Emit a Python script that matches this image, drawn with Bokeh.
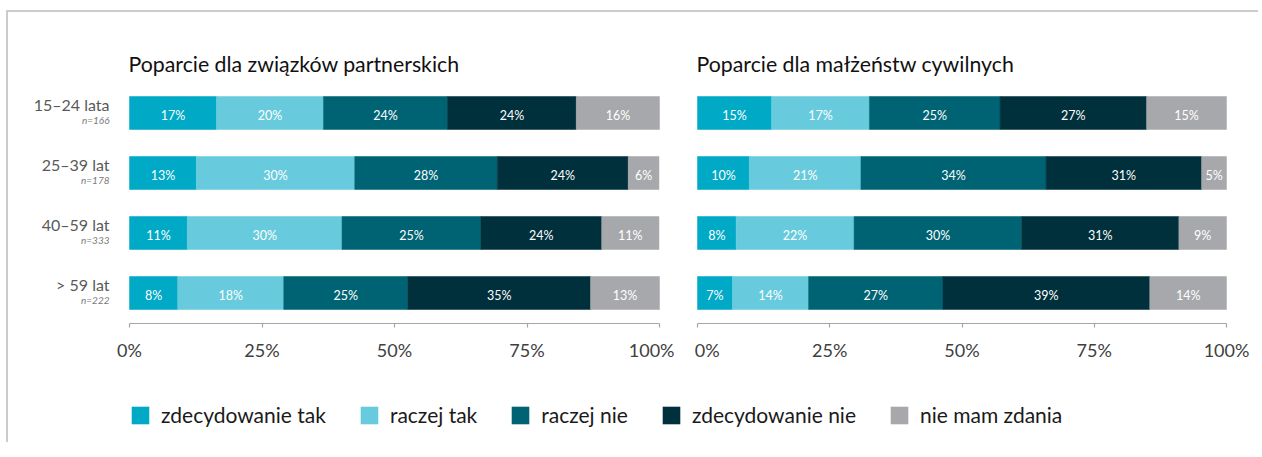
from bokeh.plotting import figure
from bokeh.models import ColumnDataSource, Range1d, FixedTicker, Legend, LegendItem
from bokeh.layouts import row, column
from bokeh.core.properties import value
from bokeh.embed import file_html
from bokeh.resources import INLINE

# ---------------- data ----------------
groups = ["15–24 lata", "25–39 lat", "40–59 lat", "> 59 lat"]
sample_sizes = ["n=166", "n=178", "n=333", "n=222"]
answers = ["zdecydowanie tak", "raczej tak", "raczej nie", "zdecydowanie nie", "nie mam zdania"]
colors = ["#00A9C5", "#67CBDD", "#006373", "#00303C", "#A7A8AB"]

title_left = "Poparcie dla związków partnerskich"
title_right = "Poparcie dla małżeństw cywilnych"

# bar shares (% of bar length), one list per answer, rows = age groups
partner_zt = [16.4, 12.6, 10.9, 9.1]
partner_rt = [20.2, 29.9, 29.2, 20.0]
partner_rn = [23.4, 26.9, 26.2, 23.4]
partner_zn = [24.3, 24.7, 22.8, 34.5]
partner_nz = [15.7, 5.8, 10.8, 13.0]
# printed percentages
partner_lab_zt = [17, 13, 11, 8]
partner_lab_rt = [20, 30, 30, 18]
partner_lab_rn = [24, 28, 25, 25]
partner_lab_zn = [24, 24, 24, 35]
partner_lab_nz = [16, 6, 11, 13]

civil_zt = [14.0, 9.8, 7.3, 6.6]
civil_rt = [18.5, 21.1, 22.3, 14.4]
civil_rn = [24.7, 35.0, 31.7, 25.4]
civil_zn = [27.7, 29.4, 29.7, 39.1]
civil_nz = [15.1, 4.7, 9.0, 14.5]
civil_lab_zt = [15, 10, 8, 7]
civil_lab_rt = [17, 21, 22, 14]
civil_lab_rn = [25, 34, 30, 27]
civil_lab_zn = [27, 31, 31, 39]
civil_lab_nz = [15, 5, 9, 14]

tick_values = [0, 25, 50, 75, 100]
tick_labels = ["0%", "25%", "50%", "75%", "100%"]

# ---------------- geometry (page pixels) ----------------
FONT = "Lato"
FIG_TOP = 12
FIG_H = 366
FRAME_BOTTOM = 323
ROW0 = 112.5
ROW_STEP = 60.0
BAR_H_PX = 33


def make_panel(title, shares, labels, fig_left, fig_right, zero_px, px_per_pct,
               with_groups, label_pad):
    x0 = (fig_left - zero_px) / px_per_pct
    x1 = (fig_right - zero_px) / px_per_pct
    y_bottom = (FRAME_BOTTOM - ROW0) / ROW_STEP
    y_top = (FIG_TOP - ROW0) / ROW_STEP
    p = figure(width=fig_right - fig_left, height=FIG_H,
               x_range=Range1d(x0, x1), y_range=Range1d(y_bottom, y_top),
               y_axis_location=None, toolbar_location=None, output_backend="svg",
               min_border_left=0, min_border_right=0, min_border_top=0,
               min_border_bottom=FIG_TOP + FIG_H - FRAME_BOTTOM)
    p.outline_line_color = None
    p.xgrid.visible = False
    p.ygrid.visible = False
    p.background_fill_color = "white"
    p.border_fill_color = "white"

    ys, lefts, rights, cols, txt, xc = [], [], [], [], [], []
    for i in range(len(groups)):
        acc = 0.0
        for k in range(len(answers)):
            w = shares[k][i]
            ys.append(i)
            lefts.append(acc)
            rights.append(acc + w)
            cols.append(colors[k])
            txt.append(f"{labels[k][i]}%")
            xc.append(acc + w / 2)
            acc += w
    src = ColumnDataSource(dict(y=ys, left=lefts, right=rights, color=cols, txt=txt, xc=xc,
                                ty=[y + 2.0 / ROW_STEP for y in ys]))
    p.hbar(y="y", left="left", right="right", height=BAR_H_PX / ROW_STEP,
           fill_color="color", line_color="color", line_width=0.5, source=src)
    p.text(x="xc", y="ty", text="txt", source=src, text_align="center",
           text_baseline="middle", text_color="white",
           text_font=value(FONT), text_font_size="12.5px")

    # title
    p.text(x=[-1.0 / px_per_pct], y=[(63.5 - ROW0) / ROW_STEP], text=[title],
           text_align="left", text_baseline="middle", text_color="#111111",
           text_font=value(FONT), text_font_size="21.3px")

    if with_groups:
        gx = (109 - zero_px) / px_per_pct
        p.text(x=[gx] * len(groups), y=[i - 8.5 / ROW_STEP for i in range(len(groups))],
               text=groups, text_align="right", text_baseline="middle",
               text_color="#595959", text_font=value(FONT), text_font_size="16px")
        p.text(x=[gx] * len(groups), y=[i + 6.5 / ROW_STEP for i in range(len(groups))],
               text=sample_sizes, text_align="right", text_baseline="middle",
               text_color="#7a7a7a", text_font=value(FONT), text_font_size="10px",
               text_font_style="italic")

    ax = p.xaxis[0]
    ax.ticker = FixedTicker(ticks=tick_values)
    ax.major_label_overrides = {v: label_pad.get(v, ("", ""))[0] + l + label_pad.get(v, ("", ""))[1]
                                for v, l in zip(tick_values, tick_labels)}
    ax.bounds = (0, 100)
    ax.axis_line_color = "#a6a6a6"
    ax.axis_line_width = 1.2
    ax.major_tick_line_color = "#a6a6a6"
    ax.major_tick_line_width = 1.2
    ax.major_tick_out = 4
    ax.major_tick_in = 0
    ax.minor_tick_line_color = None
    ax.major_label_standoff = 11
    ax.major_label_text_font = FONT
    ax.major_label_text_font_size = "18px"
    ax.major_label_text_color = "#404040"
    return p


LEFT0 = 8
MID = 683
RIGHT1 = 1258

p1 = make_panel(title_left,
                [partner_zt, partner_rt, partner_rn, partner_zn, partner_nz],
                [partner_lab_zt, partner_lab_rt, partner_lab_rn, partner_lab_zn, partner_lab_nz],
                LEFT0, MID, 129, 5.30, True,
                {100: ("", "\u2002")})
p2 = make_panel(title_right,
                [civil_zt, civil_rt, civil_rn, civil_zn, civil_nz],
                [civil_lab_zt, civil_lab_rt, civil_lab_rn, civil_lab_zn, civil_lab_nz],
                MID, RIGHT1, 697, 5.29, False,
                {0: ("\u2002\u2009", "")})

# legend strip
LW, LH = RIGHT1 - LEFT0, 64
p3 = figure(width=LW, height=LH, x_range=Range1d(0, LW), y_range=Range1d(0, LH),
            x_axis_location=None, y_axis_location=None, toolbar_location=None,
            output_backend="svg", min_border=0)
p3.outline_line_color = None
p3.xgrid.visible = False
p3.ygrid.visible = False
items = []
for a, c in zip(answers, colors):
    r = p3.rect(x=[-100], y=[-100], width=1, height=1, fill_color=c, line_color=None)
    items.append(LegendItem(label=a, renderers=[r]))
legend_center_from_bottom = FIG_TOP + FIG_H + LH - 416
legend = Legend(items=items, orientation="horizontal",
                location=(129 - LEFT0, legend_center_from_bottom - 11),
                glyph_width=22, glyph_height=22, label_standoff=10, spacing=32,
                padding=0, margin=0, border_line_color=None, background_fill_alpha=0,
                label_text_font=FONT, label_text_font_size="21px",
                label_text_color="#1a1a1a", label_height=22)
p3.add_layout(legend)

layout = column(row(p1, p2), p3,
                styles={"margin-top": "10px", "margin-left": "6px",
                        "border-top": "2px solid #cccccc", "border-left": "2px solid #cccccc"})

open("out.html", "w").write(file_html(layout, INLINE))
